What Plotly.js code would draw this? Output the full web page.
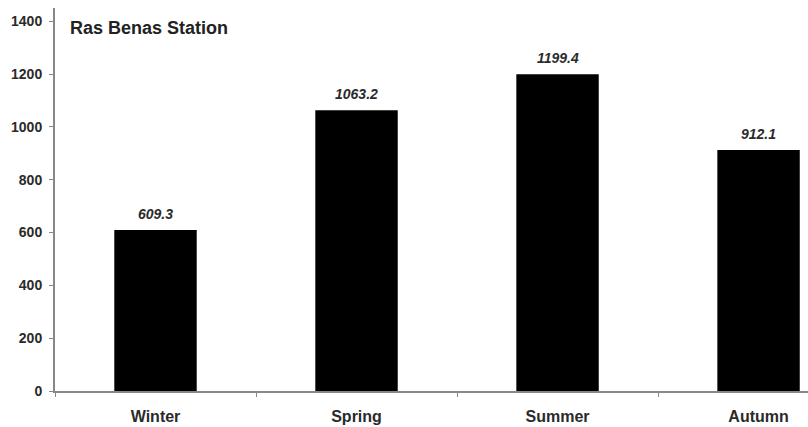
<!DOCTYPE html>
<html>
<head>
<meta charset="utf-8">
<script src="https://cdn.plot.ly/plotly-3.0.1.min.js"></script>
<style>html,body{margin:0;padding:0;background:#fff;}#chart{width:808px;height:427px;}</style>
</head>
<body>
<div id="chart"></div>
<script>
const seasons = ["Winter", "Spring", "Summer", "Autumn"];
const values = [609.3, 1063.2, 1199.4, 912.1];
const valueLabels = ["609.3", "1063.2", "1199.4", "912.1"];
const yTicks = [0, 200, 400, 600, 800, 1000, 1200, 1400];
const chartTitle = "Ras Benas Station";

const FONT = "Liberation Sans, Arial, sans-serif";

const trace = {
  type: "bar",
  x: seasons,
  y: values,
  width: 0.41,
  marker: {color: "#000000", line: {width: 0}},
  hoverinfo: "none",
  showlegend: false
};

const annotations = seasons.map((s, i) => ({
  x: s, y: values[i], xref: "x", yref: "y",
  text: valueLabels[i], showarrow: false,
  yanchor: "bottom", yshift: 6,
  font: {family: FONT, size: 14, color: "#2a2a2a", weight: "bold", style: "italic"}
}));
annotations.push({
  xref: "paper", yref: "paper", x: 0.0173, y: 0.948,
  xanchor: "left", yanchor: "middle",
  text: chartTitle, showarrow: false,
  font: {family: FONT, size: 18, color: "#222", weight: "bold"}
});

const layout = {
  width: 808, height: 427,
  margin: {l: 55, r: 0, t: 8, b: 36, pad: 0},
  paper_bgcolor: "#fff", plot_bgcolor: "#fff",
  xaxis: {
    type: "category",
    range: [-0.5, 3.246],
    showgrid: false, zeroline: false,
    showline: true, linecolor: "#888", linewidth: 2,
    ticks: "outside", tickson: "boundaries", ticklen: 4, tickcolor: "#888",
    tickfont: {family: FONT, size: 16, color: "#2a2a2a", weight: "bold"},
    ticklabelstandoff: 10
  },
  yaxis: {
    range: [0, 1450],
    tickvals: yTicks,
    ticktext: yTicks.map(String),
    showgrid: false, zeroline: false,
    showline: true, linecolor: "#888", linewidth: 2,
    ticks: "outside", ticklen: 4, tickcolor: "#888",
    tickfont: {family: FONT, size: 14, color: "#2a2a2a", weight: "bold"},
    ticklabelstandoff: 4
  },
  annotations: annotations,
  bargap: 0.59
};

Plotly.newPlot("chart", [trace], layout, {displayModeBar: false, staticPlot: true});
</script>
</body>
</html>
